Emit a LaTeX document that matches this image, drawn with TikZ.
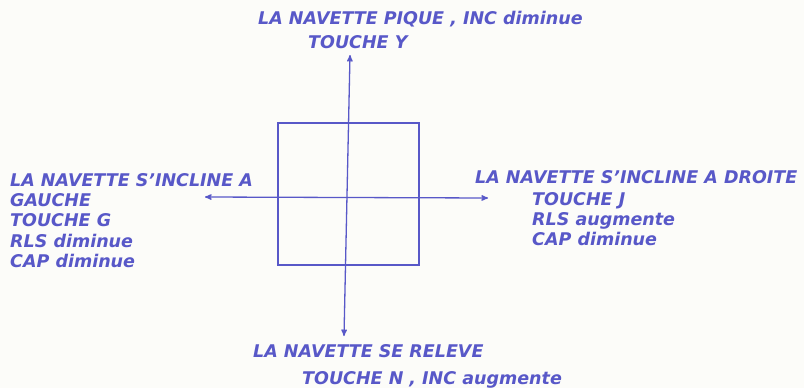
\documentclass[tikz,border=0pt]{standalone}
\usepackage{fontspec}
\setmainfont{DejaVu Sans}
\usepackage{tikz}
\usetikzlibrary{arrows,positioning}
\definecolor{stylo}{RGB}{88,88,200}
\definecolor{papier}{RGB}{252,252,249}

\begin{document}
\begin{tikzpicture}[x=1pt,y=-1pt,>=stealth',
  trait/.style={draw=stylo,line width=1.3pt},
  legende/.style={text=stylo,inner sep=0pt,anchor=base west,
    font=\fontsize{17.5}{20}\selectfont\bfseries\itshape,text height=13pt,text depth=4pt}]
  \fill[papier] (0,0) rectangle (804,388);
  \useasboundingbox (0,0) rectangle (804,388);

  % ecran et axes
  \node[trait,minimum width=141pt,minimum height=142pt,inner sep=0pt] (ecran) at (348.5,194) {};
  \coordinate (haut) at (350,55);
  \coordinate (bas) at (344,336);
  \coordinate (gauche) at (205,197);
  \coordinate (droite) at (488,198);
  \draw[trait,<->] (haut) -- (bas);
  \draw[trait,<->] (gauche) -- (droite);

  % en haut
  \node[legende] (h1) at (258,24) {LA NAVETTE PIQUE , INC diminue};
  \node[legende] (h2) at (308,48) {TOUCHE Y};

  % a gauche
  \node[legende] (g1) at (10,186) {LA NAVETTE S'INCLINE A};
  \node[legende] (g2) [below right=3pt and 0pt of g1.south west] {GAUCHE};
  \node[legende] (g3) [below right=3pt and 0pt of g2.south west] {TOUCHE G};
  \node[legende] (g4) [below right=3pt and 0pt of g3.south west] {RLS diminue};
  \node[legende] (g5) [below right=3pt and 0pt of g4.south west] {CAP diminue};

  % a droite
  \node[legende] (d1) at (475,183) {LA NAVETTE S'INCLINE A DROITE};
  \node[legende] (d2) at (532,205) {TOUCHE J};
  \node[legende] (d3) [below right=3pt and 0pt of d2.south west] {RLS augmente};
  \node[legende] (d4) [below right=3pt and 0pt of d3.south west] {CAP diminue};

  % en bas
  \node[legende] (b1) at (253,357) {LA NAVETTE SE RELEVE};
  \node[legende] (b2) at (302,384) {TOUCHE N , INC augmente};
\end{tikzpicture}
\end{document}
